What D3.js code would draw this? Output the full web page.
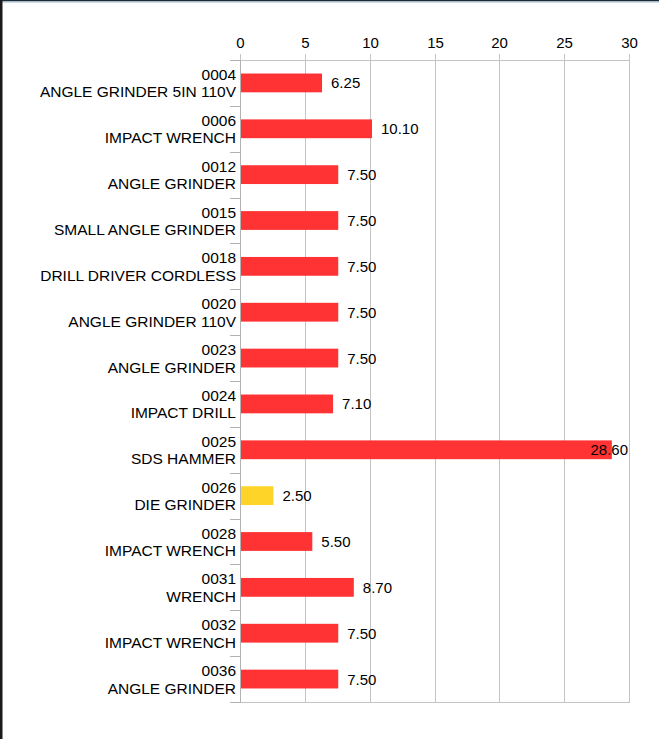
<!DOCTYPE html>
<html>
<head>
<meta charset="utf-8">
<script src="https://cdn.jsdelivr.net/npm/d3@7"></script>
<style>
  body { margin: 0; background: #fff; }
  text { font-family: "Liberation Sans", Arial, sans-serif; fill: #000; }
</style>
</head>
<body>
<main></main>
<script>
var codes = ["0004", "0006", "0012", "0015", "0018", "0020", "0023",
             "0024", "0025", "0026", "0028", "0031", "0032", "0036"];
var names = ["ANGLE GRINDER 5IN 110V", "IMPACT WRENCH", "ANGLE GRINDER",
             "SMALL ANGLE GRINDER", "DRILL DRIVER CORDLESS", "ANGLE GRINDER 110V",
             "ANGLE GRINDER", "IMPACT DRILL", "SDS HAMMER", "DIE GRINDER",
             "IMPACT WRENCH", "WRENCH", "IMPACT WRENCH", "ANGLE GRINDER"];
var values = [6.25, 10.10, 7.50, 7.50, 7.50, 7.50, 7.50, 7.10, 28.60, 2.50, 5.50, 8.70, 7.50, 7.50];
var barColors = ["#ff3333", "#ff3333", "#ff3333", "#ff3333", "#ff3333", "#ff3333", "#ff3333",
                 "#ff3333", "#ff3333", "#ffd428", "#ff3333", "#ff3333", "#ff3333", "#ff3333"];
var xTicks = [0, 5, 10, 15, 20, 25, 30];

var width = 659, height = 739;
var plotLeft = 240, plotRight = 629, plotTop = 60, plotBottom = 702;

var svg = d3.select("main")
  .append("svg")
    .attr("width", width)
    .attr("height", height)
    .style("display", "block");

// frame
svg.append("rect").attr("x", 0).attr("y", 0).attr("width", width).attr("height", 1.5).attr("fill", "#1e2a36");
svg.append("rect").attr("x", 0).attr("y", 1.5).attr("width", width).attr("height", 1.5).attr("fill", "#c9dcea");
svg.append("rect").attr("x", 0).attr("y", 0).attr("width", 2.5).attr("height", height).attr("fill", "#1a1a1a");

var x = d3.scaleLinear().domain([0, 30]).range([plotLeft, plotRight]);
var y = d3.scaleBand().domain(d3.range(codes.length)).range([plotTop, plotBottom]).paddingInner(0).paddingOuter(0);
var barH = y.bandwidth() * 0.41;

// vertical grid
svg.append("g")
  .selectAll("line")
  .data(xTicks)
  .enter().append("line")
    .attr("x1", function(d) { return Math.round(x(d)) + 0.5; })
    .attr("x2", function(d) { return Math.round(x(d)) + 0.5; })
    .attr("y1", plotTop - 6)
    .attr("y2", plotBottom)
    .attr("stroke", "#c4c4c4")
    .attr("stroke-width", 1);

// top axis line and bottom line
svg.append("line").attr("x1", plotLeft - 10).attr("x2", plotRight + 1).attr("y1", plotTop + 0.5).attr("y2", plotTop + 0.5)
  .attr("stroke", "#c4c4c4");
svg.append("line").attr("x1", plotLeft - 10).attr("x2", plotRight + 1).attr("y1", plotBottom + 0.5).attr("y2", plotBottom + 0.5)
  .attr("stroke", "#c4c4c4");

// top tick labels
svg.append("g")
  .selectAll("text")
  .data(xTicks)
  .enter().append("text")
    .attr("x", function(d) { return Math.round(x(d)) + 0.5; })
    .attr("y", 48)
    .attr("text-anchor", "middle")
    .style("font-size", "15px")
    .text(function(d) { return d; });

// category axis
svg.append("line").attr("x1", plotLeft + 0.5).attr("x2", plotLeft + 0.5).attr("y1", plotTop).attr("y2", plotBottom + 1)
  .attr("stroke", "#b3b3b3");
svg.append("g")
  .selectAll("line")
  .data(d3.range(codes.length + 1))
  .enter().append("line")
    .attr("x1", plotLeft - 10)
    .attr("x2", plotLeft)
    .attr("y1", function(i) { return Math.round(plotTop + i * y.step()) + 0.5; })
    .attr("y2", function(i) { return Math.round(plotTop + i * y.step()) + 0.5; })
    .attr("stroke", "#b3b3b3");

// bars
svg.append("g")
  .selectAll("rect")
  .data(values)
  .enter().append("rect")
    .attr("x", x(0) + 1)
    .attr("y", function(d, i) { return y(i) + y.bandwidth() / 2 - barH / 2; })
    .attr("width", function(d) { return x(d) - x(0); })
    .attr("height", barH)
    .attr("fill", function(d, i) { return barColors[i]; });

// category labels
var labels = svg.append("g")
  .selectAll("text")
  .data(codes)
  .enter().append("text")
    .attr("text-anchor", "end")
    .style("font-size", "15.5px");
labels.append("tspan")
  .attr("x", plotLeft - 4)
  .attr("y", function(d, i) { return y(i) + y.bandwidth() / 2 - 3; })
  .text(function(d) { return d; });
labels.append("tspan")
  .attr("x", plotLeft - 4)
  .attr("y", function(d, i) { return y(i) + y.bandwidth() / 2 + 14.5; })
  .text(function(d, i) { return names[i]; });

// value labels
svg.append("g")
  .selectAll("text")
  .data(values)
  .enter().append("text")
    .attr("y", function(d, i) { return y(i) + y.bandwidth() / 2 + 5.5; })
    .style("font-size", "15px")
    .text(function(d) { return d.toFixed(2); })
    .attr("x", function(d) {
      var w = this.getComputedTextLength();
      return Math.min(x(d) + 10, plotRight - 1 - w);
    });
</script>
</body>
</html>
